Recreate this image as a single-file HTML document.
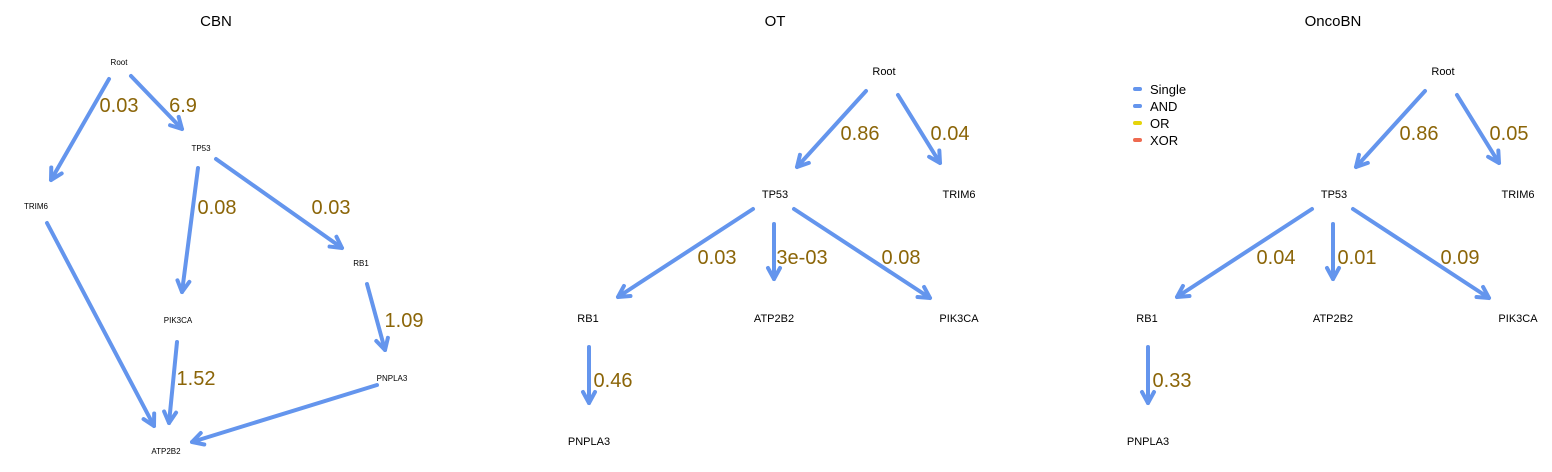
<!DOCTYPE html>
<html><head><meta charset="utf-8"><style>
html,body{margin:0;padding:0;background:#fff;}
svg{display:block;}
text{font-family:"Liberation Sans",sans-serif;}
.t{font-size:15px;fill:#000;text-anchor:middle;}
.n{font-size:11px;fill:#000;text-anchor:middle;}
.ns{font-size:8px;fill:#000;text-anchor:middle;}
.l{font-size:20px;fill:#8B6508;text-anchor:middle;}
.e{stroke:#6495ED;stroke-width:4;fill:none;stroke-linecap:round;marker-end:url(#a);}
.lg{font-size:13px;fill:#000;}
</style></head><body>
<svg width="1552" height="472" viewBox="0 0 1552 472">
<defs>
<marker id="a" markerUnits="userSpaceOnUse" viewBox="-14 -8 16 16" refX="0" refY="0" markerWidth="16" markerHeight="16" orient="auto" overflow="visible">
<path d="M-11,-6 L0,0 L-11,6" fill="none" stroke="#6495ED" stroke-width="4" stroke-linecap="round" stroke-linejoin="round"/>
</marker>
</defs>
<text class="t" x="216" y="26">CBN</text>
<text class="t" x="775" y="26">OT</text>
<text class="t" x="1333" y="26">OncoBN</text>

<!-- CBN -->
<line class="e" x1="109" y1="79" x2="51" y2="180"/>
<line class="e" x1="131" y1="76" x2="182" y2="129"/>
<line class="e" x1="198" y1="168" x2="182" y2="292"/>
<line class="e" x1="216" y1="159" x2="342" y2="248"/>
<line class="e" x1="367" y1="284" x2="385" y2="350"/>
<line class="e" x1="377" y1="385" x2="192" y2="442"/>
<line class="e" x1="47" y1="223" x2="154" y2="426"/>
<line class="e" x1="177" y1="342" x2="169" y2="423"/>
<text class="ns" x="119" y="65">Root</text>
<text class="ns" x="201" y="151">TP53</text>
<text class="ns" x="36" y="209">TRIM6</text>
<text class="ns" x="361" y="266">RB1</text>
<text class="ns" x="178" y="323">PIK3CA</text>
<text class="ns" x="392" y="381">PNPLA3</text>
<text class="ns" x="166" y="454">ATP2B2</text>
<text class="l" x="119" y="112">0.03</text>
<text class="l" x="183" y="112">6.9</text>
<text class="l" x="217" y="214">0.08</text>
<text class="l" x="331" y="214">0.03</text>
<text class="l" x="404" y="327">1.09</text>
<text class="l" x="196" y="385">1.52</text>

<!-- OT -->
<g>
<line class="e" x1="866" y1="91" x2="797" y2="167"/>
<line class="e" x1="898" y1="95" x2="940" y2="163"/>
<line class="e" x1="753" y1="209" x2="618" y2="297"/>
<line class="e" x1="774" y1="224" x2="774" y2="279"/>
<line class="e" x1="794" y1="209" x2="930" y2="298"/>
<line class="e" x1="589" y1="347" x2="589" y2="403"/>
<text class="n" x="884" y="75">Root</text>
<text class="n" x="775" y="198">TP53</text>
<text class="n" x="959" y="198">TRIM6</text>
<text class="n" x="588" y="322">RB1</text>
<text class="n" x="774" y="322">ATP2B2</text>
<text class="n" x="959" y="322">PIK3CA</text>
<text class="n" x="589" y="445">PNPLA3</text>
<text class="l" x="860" y="140">0.86</text>
<text class="l" x="950" y="140">0.04</text>
<text class="l" x="717" y="264">0.03</text>
<text class="l" x="802" y="264">3e-03</text>
<text class="l" x="901" y="264">0.08</text>
<text class="l" x="613" y="387">0.46</text>
</g>

<!-- OncoBN -->
<g transform="translate(559,0)">
<line class="e" x1="866" y1="91" x2="797" y2="167"/>
<line class="e" x1="898" y1="95" x2="940" y2="163"/>
<line class="e" x1="753" y1="209" x2="618" y2="297"/>
<line class="e" x1="774" y1="224" x2="774" y2="279"/>
<line class="e" x1="794" y1="209" x2="930" y2="298"/>
<line class="e" x1="589" y1="347" x2="589" y2="403"/>
<text class="n" x="884" y="75">Root</text>
<text class="n" x="775" y="198">TP53</text>
<text class="n" x="959" y="198">TRIM6</text>
<text class="n" x="588" y="322">RB1</text>
<text class="n" x="774" y="322">ATP2B2</text>
<text class="n" x="959" y="322">PIK3CA</text>
<text class="n" x="589" y="445">PNPLA3</text>
<text class="l" x="860" y="140">0.86</text>
<text class="l" x="950" y="140">0.05</text>
<text class="l" x="717" y="264">0.04</text>
<text class="l" x="798" y="264">0.01</text>
<text class="l" x="901" y="264">0.09</text>
<text class="l" x="613" y="387">0.33</text>
</g>

<!-- Legend -->
<g stroke-width="4" stroke-linecap="round">
<line x1="1135" y1="89" x2="1140" y2="89" stroke="#6495ED"/>
<line x1="1135" y1="106" x2="1140" y2="106" stroke="#6495ED"/>
<line x1="1135" y1="123" x2="1140" y2="123" stroke="#E5D40A"/>
<line x1="1135" y1="140" x2="1140" y2="140" stroke="#EE6A50"/>
</g>
<text class="lg" x="1150" y="94">Single</text>
<text class="lg" x="1150" y="111">AND</text>
<text class="lg" x="1150" y="128">OR</text>
<text class="lg" x="1150" y="145">XOR</text>
</svg>
</body></html>
